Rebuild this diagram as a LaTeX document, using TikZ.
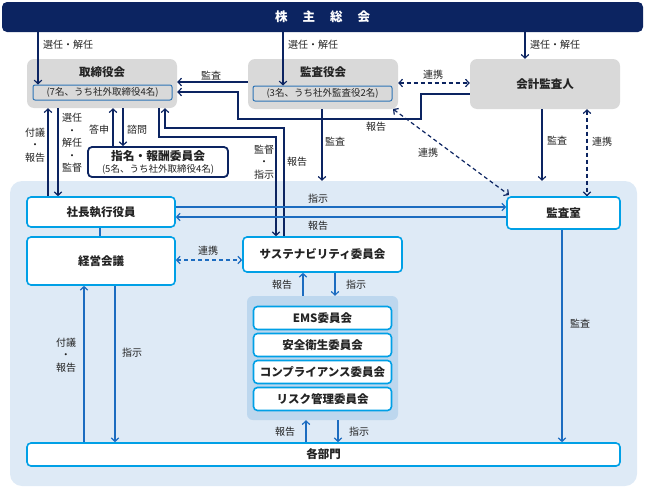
\documentclass[tikz,border=0pt]{standalone}
\usepackage{fontspec}
\setmainfont{Noto Sans CJK JP}
\usetikzlibrary{arrows.meta,calc}
\definecolor{navy}{RGB}{12,36,97}
\definecolor{cyanb}{RGB}{0,160,230}
\definecolor{midblue}{RGB}{28,108,192}
\definecolor{boxgray}{RGB}{217,217,217}
\definecolor{regionc}{RGB}{222,234,246}
\definecolor{grp}{RGB}{189,215,238}
\definecolor{inb}{RGB}{46,117,182}
\definecolor{txt}{RGB}{35,35,35}
\begin{document}
\begin{tikzpicture}[x=1pt,y=-1pt,
 gbox/.style={fill=boxgray, rounded corners=7pt, inner sep=0pt, draw=none},
 ibox/.style={draw=inb, line width=1pt, fill=boxgray, rounded corners=2pt, inner sep=0pt, font=\fontsize{9.5}{11}\selectfont, text=txt},
 wbox/.style={draw=cyanb, line width=1.6pt, fill=white, rounded corners=4pt, inner sep=0pt, font=\bfseries\fontsize{11.5}{13}\selectfont, text=txt},
 ttl/.style={font=\bfseries\fontsize{11.5}{13}\selectfont, inner sep=0pt, text=txt},
 lbl/.style={font=\fontsize{10}{11}\selectfont, inner sep=0pt, text=txt},
 slbl/.style={lbl, align=center, font=\fontsize{10}{12.5}\selectfont},
 nv/.style={draw=navy, line width=1.2pt},
 bl/.style={draw=midblue, line width=1.2pt},
 tip/.style={-{Straight Barb[length=3.5pt,width=7.5pt]}},
 tips/.style={{Straight Barb[length=3.5pt,width=7.5pt]}-{Straight Barb[length=3.5pt,width=7.5pt]}},
 dsh/.style={dash pattern=on 4pt off 3pt},
]
\useasboundingbox (0,0) rectangle (645,490);

% top bar
\node[fill=navy, rounded corners=5pt, minimum width=641pt, minimum height=30pt, inner sep=0pt,
  text=white, font=\bfseries\fontsize{12.5}{14}\selectfont] (top) at (322.5,17)
  {株\hspace{15pt}主\hspace{15pt}総\hspace{15pt}会};

% governance boxes
\node[gbox, minimum width=150pt, minimum height=49pt] (tor) at (102,83.5) {};
\node[ttl] (tortitle) at (102,72) {取締役会};
\node[ibox, minimum width=139pt, minimum height=15pt] (tin) at (102.5,92.5) {(7名、うち社外取締役4名)};

\node[gbox, minimum width=150pt, minimum height=50pt] (kan) at (323,84) {};
\node[ttl] (kantitle) at (323,72) {監査役会};
\node[ibox, minimum width=139pt, minimum height=15pt] (kin) at (322.5,93.5) {(3名、うち社外監査役2名)};

\node[gbox, minimum width=150pt, minimum height=50pt, font=\bfseries\fontsize{11.5}{13}\selectfont, text=txt] (kai) at (545,84) {会計監査人};

\node[draw=navy, line width=1.8pt, fill=white, rounded corners=4pt, minimum width=140pt, minimum height=30pt, inner sep=0pt] (shi) at (158,162) {};
\node[font=\bfseries\fontsize{11.75}{13}\selectfont, inner sep=0pt, text=txt] (shititle) at (158,156) {指名・報酬委員会};
\node[font=\fontsize{9.5}{11}\selectfont, inner sep=0pt, text=txt] (shisub) at (158,169) {(5名、うち社外取締役4名)};

% executive region
\node[fill=regionc, rounded corners=12pt, minimum width=627pt, minimum height=305pt, inner sep=0pt] (reg) at (323.5,333.5) {};

\node[wbox, minimum width=148pt, minimum height=30pt] (sha) at (101,212) {社長執行役員};
\node[wbox, minimum width=148pt, minimum height=48pt] (kei) at (101,261) {経営会議};
\node[wbox, minimum width=159pt, minimum height=35pt] (sus) at (322.5,254.5) {サステナビリティ委員会};
\node[wbox, minimum width=113pt, minimum height=32pt] (shitsu) at (563.5,213) {監査室};

\node[fill=grp, rounded corners=6pt, minimum width=151pt, minimum height=124pt, inner sep=0pt] (grpbox) at (322.5,358) {};
\node[wbox, minimum width=138pt, minimum height=23pt] (ems) at (322.5,318) {EMS委員会};
\node[wbox, minimum width=138pt, minimum height=23pt] (anz) at (322.5,345) {安全衛生委員会};
\node[wbox, minimum width=138pt, minimum height=23pt] (com) at (322.5,372) {コンプライアンス委員会};
\node[wbox, minimum width=138pt, minimum height=23pt] (ris) at (322.5,399) {リスク管理委員会};

\node[wbox, minimum width=593pt, minimum height=23pt] (bu) at (323.5,454.5) {各部門};

% helper coordinates
\coordinate (X38) at (38,0);
\coordinate (X283) at (283,0);
\coordinate (X525) at (525,0);
\coordinate (X48) at (48,0);
\coordinate (X58) at (58,0);
\coordinate (X113) at (113,0);
\coordinate (X123) at (123,0);
\coordinate (X159) at (159,0);
\coordinate (X165) at (165,0);
\coordinate (X276) at (276,0);
\coordinate (X284) at (284,0);
\coordinate (X322) at (322,0);
\coordinate (X542) at (542,0);
\coordinate (X587) at (587,0);
\coordinate (X100) at (100,0);
\coordinate (X115) at (115,0);
\coordinate (X84) at (84,0);
\coordinate (X303) at (303,0);
\coordinate (X335) at (335,0);
\coordinate (X306) at (306,0);
\coordinate (X338) at (338,0);
\coordinate (X562) at (562,0);
\coordinate (Y82) at (0,82);
\coordinate (Y83) at (0,83);
\coordinate (Y92) at (0,92);
\coordinate (Y94) at (0,94);
\coordinate (Y207) at (0,207);
\coordinate (Y217) at (0,217);
\coordinate (Y260) at (0,260);
\coordinate (R1) at (421,94);
\coordinate (R2) at (421,119);
\coordinate (R3) at (238,119);
\coordinate (R4) at (238,92);
\coordinate (S1) at (159,137);
\coordinate (S2) at (276,137);
\coordinate (T1) at (284,128);
\coordinate (T2) at (165,128);
\coordinate (D1) at (393,109);
\coordinate (D2) at (509,195);

% navy connectors
\draw[nv,tip] (top.south -| X38) -- (tin.north -| X38);
\node[lbl, anchor=west] (l1) at (43,45) {選任・解任};
\draw[nv,tip] (top.south -| X283) -- (kin.north -| X283);
\node[lbl, anchor=west] (l2) at (288,45) {選任・解任};
\draw[nv,tip] (top.south -| X525) -- (kai.north -| X525);
\node[lbl, anchor=west] (l3) at (530,45) {選任・解任};

\draw[nv,tip] (kan.west |- Y82) -- (tor.east |- Y82);
\node[lbl] (l4) at (211,76) {監査};
\draw[nv,tip] (kai.west |- Y94) -- (R1) -- (R2) -- (R3) -- (R4) -- (tor.east |- Y92);
\node[lbl] (l5) at (376,127) {報告};
\draw[nv,dsh,tips] (kan.east |- Y83) -- (kai.west |- Y83);
\node[lbl] (l6) at (433,75) {連携};

\draw[nv,tip] (tor.south -| X159) -- (S1) -- (S2) -- (sus.north -| X276);
\node[slbl] (l7) at (264,162) {監督\\・\\指示};
\draw[nv,tip] (sus.north -| X284) -- (T1) -- (T2) -- (tor.south -| X165);
\node[lbl] (l8) at (297,162) {報告};

\draw[nv,tip] (sha.north -| X48) -- (tor.south -| X48);
\node[slbl] (l9) at (35,145) {付議\\・\\報告};
\draw[nv,tip] (tor.south -| X58) -- (sha.north -| X58);
\node[slbl] (l10) at (72,143) {選任\\・\\解任\\・\\監督};
\draw[nv,tip] (shi.north -| X113) -- (tor.south -| X113);
\node[lbl] (l11) at (99,130) {答申};
\draw[nv,tip] (tor.south -| X123) -- (shi.north -| X123);
\node[lbl] (l12) at (137,130) {諮問};

\draw[nv,tip] (kan.south -| X322) -- (reg.north -| X322);
\node[lbl] (l13) at (335,142) {監査};
\draw[nv,tip] (kai.south -| X542) -- (reg.north -| X542);
\node[lbl] (l14) at (557,141) {監査};
\draw[nv,dsh,tips] (kai.south -| X587) -- (shitsu.north -| X587);
\node[lbl] (l15) at (602,142) {連携};
\draw[nv,dsh,tips] (D1) -- (D2);
\node[lbl] (l16) at (428,153) {連携};

% blue connectors
\draw[bl,tip] (sha.east |- Y207) -- (shitsu.west |- Y207);
\node[lbl] (l17) at (318,199) {指示};
\draw[bl,tip] (shitsu.west |- Y217) -- (sha.east |- Y217);
\node[lbl] (l18) at (318,226) {報告};
\draw[bl] (sha.south -| X100) -- (kei.north -| X100);
\draw[bl,dsh,tips] (kei.east |- Y260) -- (sus.west |- Y260);
\node[lbl] (l19) at (208,251) {連携};

\draw[bl,tip] (kei.south -| X115) -- (bu.north -| X115);
\node[lbl] (l20) at (132,353) {指示};
\draw[bl,tip] (bu.north -| X84) -- (kei.south -| X84);
\node[slbl] (l21) at (66,355) {付議\\・\\報告};

\draw[bl,tip] (grpbox.north -| X303) -- (sus.south -| X303);
\node[lbl] (l22) at (282,285) {報告};
\draw[bl,tip] (sus.south -| X335) -- (grpbox.north -| X335);
\node[lbl] (l23) at (356,285) {指示};

\draw[bl,tip] (bu.north -| X306) -- (grpbox.south -| X306);
\node[lbl] (l24) at (285,432) {報告};
\draw[bl,tip] (grpbox.south -| X338) -- (bu.north -| X338);
\node[lbl] (l25) at (359,432) {指示};

\draw[bl,tip] (shitsu.south -| X562) -- (bu.north -| X562);
\node[lbl] (l26) at (580,324) {監査};
\end{tikzpicture}
\end{document}
